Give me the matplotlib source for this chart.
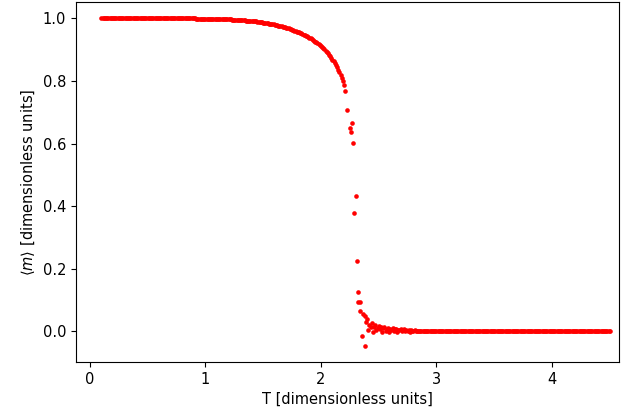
import matplotlib
matplotlib.use('Agg')
import matplotlib.pyplot as plt

# Temperature values
temperature = [
    0.10, 0.11, 0.12, 0.13, 0.14, 0.15, 0.16, 0.17, 0.18, 0.19,
    0.20, 0.21, 0.22, 0.23, 0.24, 0.25, 0.26, 0.27, 0.28, 0.29,
    0.30, 0.31, 0.32, 0.33, 0.34, 0.35, 0.36, 0.37, 0.38, 0.39,
    0.40, 0.41, 0.42, 0.43, 0.44, 0.45, 0.46, 0.47, 0.48, 0.49,
    0.50, 0.51, 0.52, 0.53, 0.54, 0.55, 0.56, 0.57, 0.58, 0.59,
    0.60, 0.61, 0.62, 0.63, 0.64, 0.65, 0.66, 0.67, 0.68, 0.69,
    0.70, 0.71, 0.72, 0.73, 0.74, 0.75, 0.76, 0.77, 0.78, 0.79,
    0.80, 0.81, 0.82, 0.83, 0.84, 0.85, 0.86, 0.87, 0.88, 0.89,
    0.90, 0.91, 0.92, 0.93, 0.94, 0.95, 0.96, 0.97, 0.98, 0.99,
    1.00, 1.01, 1.02, 1.03, 1.04, 1.05, 1.06, 1.07, 1.08, 1.09,
    1.10, 1.11, 1.12, 1.13, 1.14, 1.15, 1.16, 1.17, 1.18, 1.19,
    1.20, 1.21, 1.22, 1.23, 1.24, 1.25, 1.26, 1.27, 1.28, 1.29,
    1.30, 1.31, 1.32, 1.33, 1.34, 1.35, 1.36, 1.37, 1.38, 1.39,
    1.40, 1.41, 1.42, 1.43, 1.44, 1.45, 1.46, 1.47, 1.48, 1.49,
    1.50, 1.51, 1.52, 1.53, 1.54, 1.55, 1.56, 1.57, 1.58, 1.59,
    1.60, 1.61, 1.62, 1.63, 1.64, 1.65, 1.66, 1.67, 1.68, 1.69,
    1.70, 1.71, 1.72, 1.73, 1.74, 1.75, 1.76, 1.77, 1.78, 1.79,
    1.80, 1.81, 1.82, 1.83, 1.84, 1.85, 1.86, 1.87, 1.88, 1.89,
    1.90, 1.91, 1.92, 1.93, 1.94, 1.95, 1.96, 1.97, 1.98, 1.99,
    2.00, 2.01, 2.02, 2.03, 2.04, 2.05, 2.06, 2.07, 2.08, 2.09,
    2.10, 2.11, 2.12, 2.13, 2.14, 2.15, 2.16, 2.17, 2.18, 2.19,
    2.20, 2.21,
    2.229, 2.255, 2.260, 2.269, 2.278, 2.290, 2.301, 2.310, 2.321, 2.324,
    2.338, 2.336, 2.359, 2.364, 2.379, 2.382, 2.394,
    2.40, 2.41, 2.42, 2.43, 2.44, 2.45, 2.46, 2.47, 2.48, 2.49,
    2.50, 2.51, 2.52, 2.53, 2.54, 2.55, 2.56, 2.57, 2.58, 2.59,
    2.60, 2.61, 2.62, 2.63, 2.64, 2.65, 2.66, 2.67, 2.68, 2.69,
    2.70, 2.71, 2.72, 2.73, 2.74, 2.75, 2.76, 2.77, 2.78, 2.79,
    2.80, 2.81, 2.82, 2.83, 2.84, 2.85, 2.86, 2.87, 2.88, 2.89,
    2.90, 2.91, 2.92, 2.93, 2.94, 2.95, 2.96, 2.97, 2.98, 2.99,
    3.00, 3.01, 3.02, 3.03, 3.04, 3.05, 3.06, 3.07, 3.08, 3.09,
    3.10, 3.11, 3.12, 3.13, 3.14, 3.15, 3.16, 3.17, 3.18, 3.19,
    3.20, 3.21, 3.22, 3.23, 3.24, 3.25, 3.26, 3.27, 3.28, 3.29,
    3.30, 3.31, 3.32, 3.33, 3.34, 3.35, 3.36, 3.37, 3.38, 3.39,
    3.40, 3.41, 3.42, 3.43, 3.44, 3.45, 3.46, 3.47, 3.48, 3.49,
    3.50, 3.51, 3.52, 3.53, 3.54, 3.55, 3.56, 3.57, 3.58, 3.59,
    3.60, 3.61, 3.62, 3.63, 3.64, 3.65, 3.66, 3.67, 3.68, 3.69,
    3.70, 3.71, 3.72, 3.73, 3.74, 3.75, 3.76, 3.77, 3.78, 3.79,
    3.80, 3.81, 3.82, 3.83, 3.84, 3.85, 3.86, 3.87, 3.88, 3.89,
    3.90, 3.91, 3.92, 3.93, 3.94, 3.95, 3.96, 3.97, 3.98, 3.99,
    4.00, 4.01, 4.02, 4.03, 4.04, 4.05, 4.06, 4.07, 4.08, 4.09,
    4.10, 4.11, 4.12, 4.13, 4.14, 4.15, 4.16, 4.17, 4.18, 4.19,
    4.20, 4.21, 4.22, 4.23, 4.24, 4.25, 4.26, 4.27, 4.28, 4.29,
    4.30, 4.31, 4.32, 4.33, 4.34, 4.35, 4.36, 4.37, 4.38, 4.39,
    4.40, 4.41, 4.42, 4.43, 4.44, 4.45, 4.46, 4.47, 4.48, 4.49,
    4.50,
]

# Mean magnetisation <m> at each temperature
magnetisation = [
    1.000, 1.000, 1.000, 1.000, 1.000, 1.000, 1.000, 1.000, 1.000, 1.000,
    1.000, 1.000, 1.000, 1.000, 1.000, 1.000, 1.000, 1.000, 1.000, 1.000,
    1.000, 1.000, 1.000, 1.000, 1.000, 1.000, 1.000, 1.000, 1.000, 1.000,
    1.000, 1.000, 1.000, 1.000, 1.000, 1.000, 1.000, 1.000, 1.000, 1.000,
    1.000, 1.000, 1.000, 1.000, 1.000, 1.000, 1.000, 1.000, 1.000, 1.000,
    1.000, 1.000, 1.000, 1.000, 1.000, 1.000, 1.000, 1.000, 1.000, 1.000,
    1.000, 1.000, 1.000, 1.000, 1.000, 1.000, 1.000, 1.000, 1.000, 1.000,
    1.000, 1.000, 1.000, 1.000, 1.000, 1.000, 1.000, 1.000, 1.000, 1.000,
    1.000, 1.000, 0.999, 0.999, 0.999, 0.999, 0.999, 0.999, 0.999, 0.999,
    0.999, 0.999, 0.999, 0.999, 0.999, 0.999, 0.999, 0.999, 0.998, 0.998,
    0.998, 0.998, 0.998, 0.998, 0.997, 0.997, 0.997, 0.997, 0.997, 0.997,
    0.997, 0.997, 0.997, 0.996, 0.996, 0.996, 0.996, 0.995, 0.995, 0.995,
    0.995, 0.994, 0.994, 0.994, 0.994, 0.993, 0.993, 0.992, 0.992, 0.992,
    0.992, 0.991, 0.991, 0.990, 0.990, 0.989, 0.989, 0.988, 0.988, 0.987,
    0.986, 0.986, 0.985, 0.985, 0.984, 0.983, 0.983, 0.982, 0.981, 0.981,
    0.980, 0.979, 0.978, 0.977, 0.976, 0.975, 0.974, 0.973, 0.972, 0.971,
    0.970, 0.969, 0.968, 0.966, 0.965, 0.964, 0.963, 0.961, 0.960, 0.958,
    0.957, 0.955, 0.954, 0.952, 0.950, 0.948, 0.946, 0.945, 0.943, 0.940,
    0.938, 0.936, 0.934, 0.931, 0.929, 0.926, 0.923, 0.921, 0.918, 0.914,
    0.911, 0.908, 0.904, 0.901, 0.897, 0.893, 0.889, 0.884, 0.879, 0.874,
    0.868, 0.863, 0.857, 0.850, 0.843, 0.836, 0.827, 0.819, 0.810, 0.799,
    0.786, 0.768,
    0.708, 0.649, 0.637, 0.665, 0.603, 0.379, 0.431, 0.225, 0.127, 0.092,
    0.092, 0.065, -0.015, 0.055, -0.046, 0.048, 0.031,
    0.038, 0.005, 0.021, 0.014, 0.025, -0.002, 0.012, 0.019, 0.003, 0.010,
    0.016, 0.006, 0.012, -0.004, 0.009, 0.013, 0.002, 0.008, 0.011, -0.003,
    0.007, 0.004, 0.009, 0.001, 0.006, 0.008, -0.002, 0.005, 0.003, 0.007,
    0.001, 0.004, 0.006, 0.000, 0.003, 0.002, 0.004, -0.001, 0.003, 0.002,
    0.000, 0.003, 0.001, 0.002, 0.000, 0.002, 0.001, 0.001, 0.002, 0.000,
    0.001, 0.002, 0.001, 0.000, 0.000, 0.002, 0.001, 0.000, 0.001, 0.002,
    0.000, 0.001, 0.001, 0.000, 0.002, 0.001, 0.000, 0.001, 0.001, 0.000,
    0.001, 0.000, 0.002, 0.001, 0.000, 0.001, 0.000, 0.001, 0.001, 0.000,
    0.000, 0.001, 0.001, 0.000, 0.001, 0.000, 0.001, 0.000, 0.001, 0.001,
    0.001, 0.000, 0.000, 0.001, 0.001, 0.000, 0.001, 0.000, 0.000, 0.001,
    0.000, 0.001, 0.000, 0.001, 0.000, 0.000, 0.001, 0.001, 0.000, 0.000,
    0.001, 0.000, 0.001, 0.000, 0.000, 0.001, 0.000, 0.000, 0.001, 0.000,
    0.000, 0.001, 0.000, 0.000, 0.001, 0.000, 0.000, 0.001, 0.000, 0.000,
    0.001, 0.000, 0.000, 0.001, 0.000, 0.000, 0.000, 0.001, 0.000, 0.000,
    0.000, 0.001, 0.000, 0.000, 0.000, 0.001, 0.000, 0.000, 0.001, 0.000,
    0.000, 0.000, 0.001, 0.000, 0.000, 0.000, 0.001, 0.000, 0.000, 0.000,
    0.001, 0.000, 0.000, 0.000, 0.000, 0.001, 0.000, 0.000, 0.000, 0.001,
    0.000, 0.000, 0.000, 0.001, 0.000, 0.000, 0.000, 0.000, 0.001, 0.000,
    0.000, 0.000, 0.001, 0.000, 0.000, 0.000, 0.000, 0.001, 0.000, 0.000,
    0.000, 0.001, 0.000, 0.000, 0.000, 0.000, 0.001, 0.000, 0.000, 0.000,
    0.001, 0.000, 0.000, 0.000, 0.000, 0.000, 0.001, 0.000, 0.000, 0.000,
    0.000,
]

fig = plt.figure(figsize=(6.21, 4.18), dpi=100)
ax = fig.add_axes([76 / 621, 56 / 418, 543 / 621, 360 / 418])

ax.scatter(temperature, magnetisation, s=11, c='red', linewidths=0)

# right edge of the original chart is cut off just past T = 4.5
ax.set_xlim(-0.12, 4.58)

ax.set_xlabel('T [dimensionless units]', fontsize=10.5)
ax.set_ylabel(r'$\langle m \rangle$ [dimensionless units]', fontsize=10.5)
ax.tick_params(labelsize=10.5)

fig.savefig('out.png', dpi=100)
